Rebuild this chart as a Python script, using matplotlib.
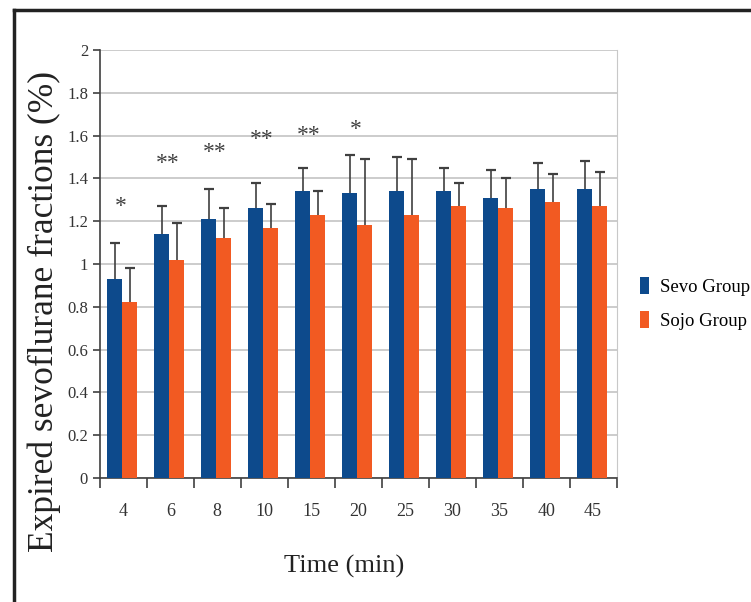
import numpy as np
import matplotlib.pyplot as plt
from matplotlib.lines import Line2D

plt.rcParams['font.family'] = ['Liberation Serif', 'DejaVu Serif']

# data
times = ['4', '6', '8', '10', '15', '20', '25', '30', '35', '40', '45']
sevo = [0.93, 1.14, 1.21, 1.26, 1.34, 1.33, 1.34, 1.34, 1.31, 1.35, 1.35]
sevo_sd = [0.17, 0.13, 0.14, 0.12, 0.11, 0.18, 0.16, 0.11, 0.13, 0.12, 0.13]
sojo = [0.82, 1.02, 1.12, 1.17, 1.23, 1.18, 1.23, 1.27, 1.26, 1.29, 1.27]
sojo_sd = [0.16, 0.17, 0.14, 0.11, 0.11, 0.31, 0.26, 0.11, 0.14, 0.13, 0.16]
stars = ['*', '**', '**', '**', '**', '*', '', '', '', '', '']
star_y = [1.27, 1.47, 1.52, 1.58, 1.60, 1.63, 0, 0, 0, 0, 0]

blue = '#0d4a8c'
orange = '#f25a22'
dark = '#404040'

fig = plt.figure(figsize=(7.51, 6.02), dpi=100)
ax = fig.add_axes([0.133, 0.206, 0.688, 0.711])

x = np.arange(len(times))
w = 0.32
err_kw = dict(ecolor=dark, elinewidth=1.2, capsize=3.5, capthick=1.6)
b1 = ax.bar(x - w / 2 - 0.02, sevo, w, color=blue, label='Sevo Group', zorder=3,
            yerr=[np.zeros(len(sevo)), sevo_sd], error_kw=err_kw)
b2 = ax.bar(x + w / 2 - 0.02, sojo, w, color=orange, label='Sojo Group', zorder=3,
            yerr=[np.zeros(len(sojo)), sojo_sd], error_kw=err_kw)
# only the upper cap is shown
for b in (b1, b2):
    b.errorbar.lines[1][0].set_visible(False)

for i, s in enumerate(stars):
    if s:
        ax.text(x[i] - 0.05, star_y[i], s, ha='center', va='center',
                fontsize=17, color=dark)

ax.set_xlim(-0.5, len(times) - 0.5)
ax.set_ylim(0, 2)
ax.set_yticks(np.arange(0, 2.01, 0.2))
ax.set_yticklabels(['%g' % round(v, 1) for v in np.arange(0, 2.01, 0.2)])
ax.yaxis.grid(True, color='#c4c4c4', linewidth=1.2, zorder=0)
ax.set_axisbelow(True)

ax.set_xticks(np.arange(-0.5, len(times), 1.0))
ax.set_xticklabels([])
ax.set_xticks(x, minor=True)
ax.set_xticklabels(times, minor=True)
ax.tick_params(axis='x', which='major', length=7, width=1.2, color=dark)
ax.tick_params(axis='x', which='minor', length=0, pad=18, labelsize=13, labelcolor='#333333')
ax.tick_params(axis='y', length=5, width=1.2, color=dark, labelsize=12, labelcolor='#333333')

ax.spines['top'].set_visible(False)
ax.spines['right'].set_color('#c8c8c8')
ax.spines['left'].set_color(dark)
ax.spines['bottom'].set_color(dark)
ax.spines['left'].set_linewidth(1.2)
ax.spines['bottom'].set_linewidth(1.2)

ax.set_ylabel('Expired sevoflurane fractions (%)', fontsize=25.5, color='#222222')
ax.yaxis.set_label_coords(-0.076, 0.39)
ax.set_xlabel('Time (min)', fontsize=19, color='#222222')
ax.xaxis.set_label_coords(0.472, -0.179)

ax.legend(loc='center left', bbox_to_anchor=(0.852, 0.496), bbox_transform=fig.transFigure,
          frameon=False, fontsize=13.5, handlelength=0.5, handleheight=1.0,
          handletextpad=0.55, labelspacing=0.8, borderaxespad=0, borderpad=0)

# black frame round the figure (left and top edges visible)
fig.add_artist(Line2D([0.018, 0.018], [0, 0.983], color='#222222', lw=2.5))
fig.add_artist(Line2D([0.018, 1.0], [0.983, 0.983], color='#222222', lw=2.5))

fig.savefig('out.png', dpi=100)
